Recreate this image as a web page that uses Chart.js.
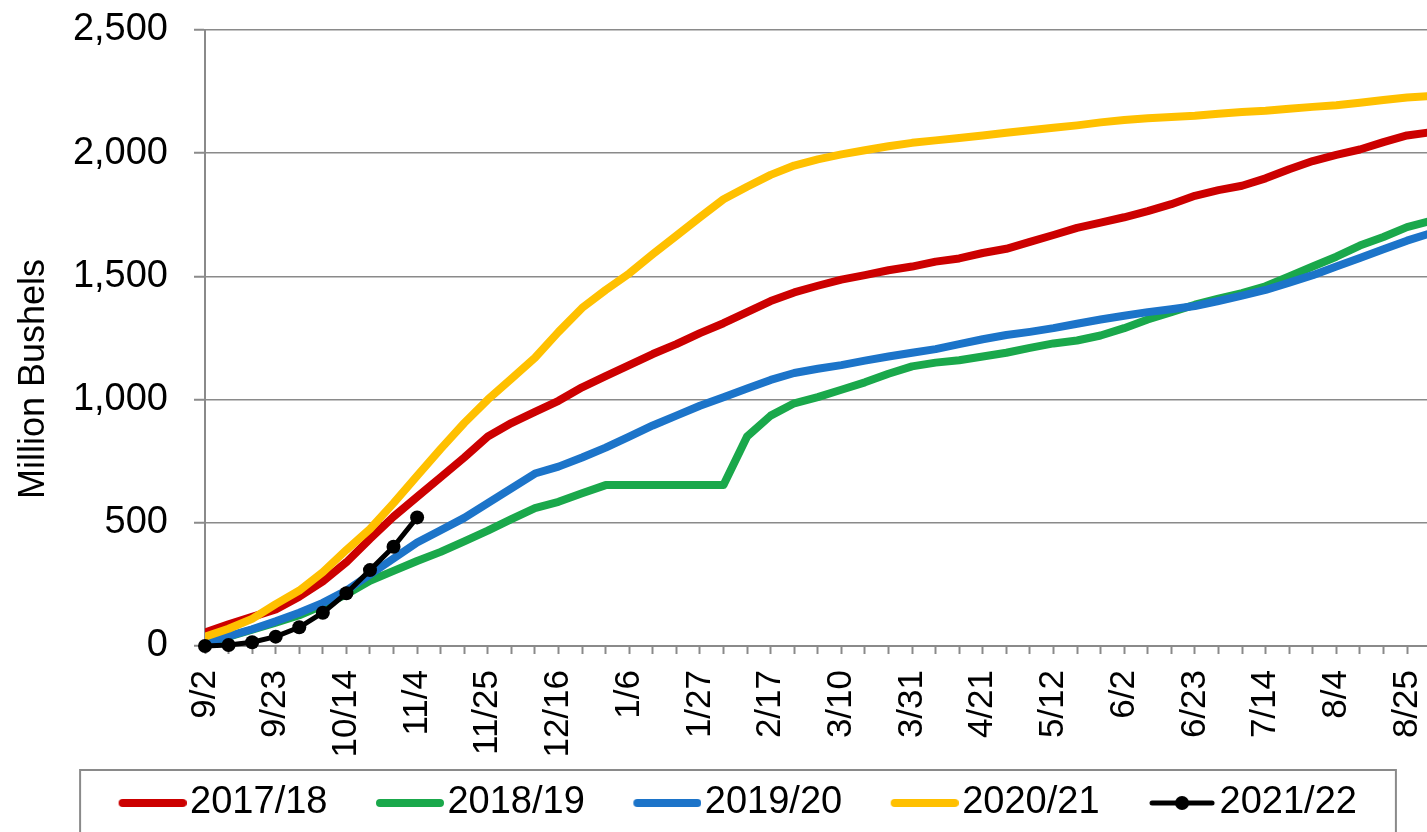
<!DOCTYPE html>
<html>
<head>
<meta charset="utf-8">
<title>Cumulative export sales</title>
<script src="https://cdn.jsdelivr.net/npm/chart.js@4.4.0/dist/chart.umd.min.js"></script>
<style>
  html, body { margin: 0; padding: 0; background: #fff; overflow: hidden; }
  #chart_wrap { width: 1427px; height: 832px; position: relative; }
</style>
</head>
<body>
<div id="chart_wrap"><canvas id="sales_canvas"></canvas></div>
<script>
//  weekly marketing-year dates (x axis)
var week_labels = [
  '9/2', '9/9', '9/16', '9/23', '9/30', '10/7', '10/14', '10/21', '10/28', '11/4',
  '11/11', '11/18', '11/25', '12/2', '12/9', '12/16', '12/23', '12/30', '1/6', '1/13',
  '1/20', '1/27', '2/3', '2/10', '2/17', '2/24', '3/3', '3/10', '3/17', '3/24',
  '3/31', '4/7', '4/14', '4/21', '4/28', '5/5', '5/12', '5/19', '5/26', '6/2',
  '6/9', '6/16', '6/23', '6/30', '7/7', '7/14', '7/21', '7/28', '8/4', '8/11',
  '8/18', '8/25', '9/1'
];

var season_labels = ['2017/18', '2018/19', '2019/20', '2020/21', '2021/22'];

//  million bushels, cumulative
var sales_1718 = [
  55, 88, 118, 148, 200, 262, 340, 435, 525, 605,
  685, 765, 850, 905, 950, 995, 1050, 1095, 1140, 1185,
  1225, 1270, 1310, 1355, 1400, 1435, 1462, 1487, 1505, 1525,
  1540, 1560, 1573, 1595, 1612, 1640, 1668, 1697, 1718, 1740,
  1765, 1793, 1827, 1850, 1868, 1898, 1935, 1968, 1993, 2015,
  2045, 2072, 2085
];
var sales_1819 = [
  10, 38, 66, 95, 125, 165, 210, 265, 305, 345,
  382, 425, 468, 515, 560, 585, 620, 653, 653, 653,
  653, 653, 653, 850, 935, 985, 1010, 1040, 1070, 1105,
  1135, 1150, 1160, 1175, 1190, 1210, 1228, 1240, 1260, 1290,
  1325, 1355, 1385, 1410, 1432, 1460, 1500, 1540, 1580, 1625,
  1660, 1700, 1725
];
var sales_1920 = [
  10, 40, 68, 100, 135, 175, 225, 290, 355, 420,
  470, 520, 580, 640, 700, 728, 765, 805, 850, 895,
  935, 975, 1010, 1045, 1080, 1108, 1125, 1140, 1158, 1175,
  1190, 1205, 1225, 1245, 1262, 1275, 1290, 1308, 1325, 1340,
  1355, 1367, 1380, 1400, 1422, 1445, 1475, 1505, 1540, 1575,
  1610, 1645, 1675
];
var sales_2021 = [
  38, 70, 110, 170, 225, 300, 390, 475, 580, 690,
  800, 905, 1000, 1085, 1170, 1275, 1372, 1445, 1512, 1590,
  1665, 1740, 1813, 1864, 1912, 1950, 1975, 1995, 2012, 2028,
  2042, 2052, 2062, 2072, 2083, 2093, 2103, 2113, 2125, 2135,
  2142, 2147, 2152, 2160, 2167, 2172, 2180, 2188, 2195, 2205,
  2216, 2226, 2232
];
var sales_2122 = [0, 4, 15, 38, 76, 135, 214, 308, 403, 522];

var y_ticks = [0, 500, 1000, 1500, 2000, 2500];

(function(Chart) {
  'use strict';

  var font_family = "'Liberation Sans', Arial, Helvetica, sans-serif",
      grid_color  = '#8a8a8a',
      colors      = ['#cc0000', '#1aa84b', '#1c74c9', '#ffc000', '#000000'];

  //  the original is cropped: week 8/25 (index 51) sits at x=1407
  var anchor_index = 51,
      anchor_px    = 1407;

  Chart.defaults.font.family = font_family;
  Chart.defaults.color = '#000';

  /**
   * [make_marker line sample for the legend, drawn a bit left of centre]
   */
  function make_marker(_color, _dot) {
    var c = document.createElement('canvas');
    c.width = 84;
    c.height = 18;
    var g = c.getContext('2d');
    g.strokeStyle = _color;
    g.lineCap = 'round';
    g.lineWidth = _dot ? 5 : 8;
    g.beginPath();
    g.moveTo(20, 9);
    g.lineTo(80, 9);
    g.stroke();
    if (_dot) {
      g.fillStyle = _color;
      g.beginPath();
      g.arc(50, 9, 7, 0, Math.PI * 2);
      g.fill();
    }
    return c;
  }

  var markers = colors.map(function(c, i) { return make_marker(c, i === 4); });

  //  y axis title, sits a bit below the middle like the original
  var axis_title_plugin = {
    id: 'axis_title',
    afterDraw: function(chart) {
      var ctx = chart.ctx,
          area = chart.chartArea;
      ctx.save();
      ctx.translate(34, (area.top + area.bottom) / 2 + 41);
      ctx.rotate(-Math.PI / 2);
      ctx.font = '36px ' + font_family;
      ctx.fillStyle = '#000';
      ctx.textAlign = 'center';
      ctx.textBaseline = 'middle';
      ctx.fillText('Million Bushels', 0, 0);
      ctx.restore();
    }
  };

  //  legend row is centred a little right of the page centre, with a frame
  var legend_box_plugin = {
    id: 'legend_box',
    afterLayout: function(chart) {
      if (!chart.legend) return;
      chart.legend.left = 48;
      chart.legend.right = 1427;
      chart.legend.top = 736;
    },
    afterDraw: function(chart) {
      var boxes = chart.legend && chart.legend.legendHitBoxes;
      if (!boxes || !boxes.length) return;
      var last  = boxes[boxes.length - 1],
          left  = boxes[0].left - 38,
          right = last.left + last.width + 39,
          top   = boxes[0].top - 14,
          ctx   = chart.ctx;
      ctx.save();
      ctx.strokeStyle = grid_color;
      ctx.lineWidth = 2;
      ctx.strokeRect(left, top, right - left, chart.height - top + 10);
      ctx.restore();
    }
  };

  var series = [sales_1718, sales_1819, sales_1920, sales_2021, sales_2122];

  var datasets = series.map(function(values, i) {
    var is_current = (i === 4);
    return {
      label: season_labels[i],
      data: values,
      borderColor: colors[i],
      backgroundColor: colors[i],
      borderWidth: is_current ? 5 : 8,
      pointRadius: is_current ? 7 : 0,
      pointHoverRadius: is_current ? 7 : 0,
      pointBackgroundColor: colors[i],
      pointBorderWidth: 0,
      borderCapStyle: 'round',
      borderJoinStyle: 'round',
      tension: 0,
      fill: false,
      clip: is_current ? false : undefined,
      order: 5 - i
    };
  });

  var ctx = document.getElementById('sales_canvas').getContext('2d');

  var sales_chart = new Chart(ctx, {
    type: 'line',
    data: {
      labels: week_labels.map(function(_, i) { return i; }),
      datasets: datasets
    },
    options: {
      animation: false,
      responsive: true,
      maintainAspectRatio: false,
      layout: {
        autoPadding: false,
        padding: { top: 30, right: 0, left: 0, bottom: 0 }
      },
      scales: {
        x: {
          type: 'linear',
          min: 0,
          max: 52,
          border: { display: true, color: grid_color, width: 2 },
          grid: {
            display: true,
            drawOnChartArea: false,
            drawTicks: true,
            tickLength: 8,
            tickWidth: 2,
            tickColor: grid_color
          },
          ticks: {
            stepSize: 1,
            includeBounds: false,
            autoSkip: false,
            maxTicksLimit: 200,
            minRotation: 90,
            maxRotation: 90,
            padding: 16,
            font: { size: 35 },
            callback: function(value) {
              if (!Number.isInteger(value) || value >= week_labels.length) return null;
              return value % 3 === 0 ? week_labels[value] : '';
            }
          },
          afterFit: function(scale) {
            scale.paddingLeft = 0;
            scale.paddingRight = 0;
            scale.height = 114;
          }
        },
        y: {
          min: y_ticks[0],
          max: y_ticks[y_ticks.length - 1],
          border: { display: true, color: grid_color, width: 2 },
          grid: {
            color: grid_color,
            lineWidth: 1.5,
            tickLength: 11,
            tickColor: grid_color,
            tickWidth: 2
          },
          afterBuildTicks: function(scale) {
            scale.ticks = y_ticks.map(function(v) { return { value: v }; });
          },
          ticks: {
            padding: 26,
            font: { size: 38 },
            callback: function(value) {
              return value.toLocaleString('en-US');
            }
          },
          afterFit: function(scale) {
            scale.width = 205;
            scale.paddingTop = 0;
            scale.paddingBottom = 0;
          }
        }
      },
      plugins: {
        legend: {
          position: 'bottom',
          maxHeight: 72,
          labels: {
            usePointStyle: true,
            pointStyleWidth: 53,
            boxHeight: 18,
            padding: 48,
            font: { size: 38 },
            color: '#000',
            generateLabels: function(chart) {
              var items = Chart.defaults.plugins.legend.labels.generateLabels(chart);
              items.sort(function(a, b) { return a.datasetIndex - b.datasetIndex; });
              items.forEach(function(item) {
                item.pointStyle = markers[item.datasetIndex];
              });
              return items;
            }
          }
        },
        tooltip: { enabled: false }
      }
    },
    plugins: [axis_title_plugin, legend_box_plugin]
  });

  //  stretch the week axis so the anchor week lands where it does in the original
  var area    = sales_chart.chartArea,
      week_px = (anchor_px - area.left) / anchor_index;

  sales_chart.options.scales.x.max = (area.right - area.left) / week_px;
  sales_chart.update();

})(Chart);
</script>
</body>
</html>
